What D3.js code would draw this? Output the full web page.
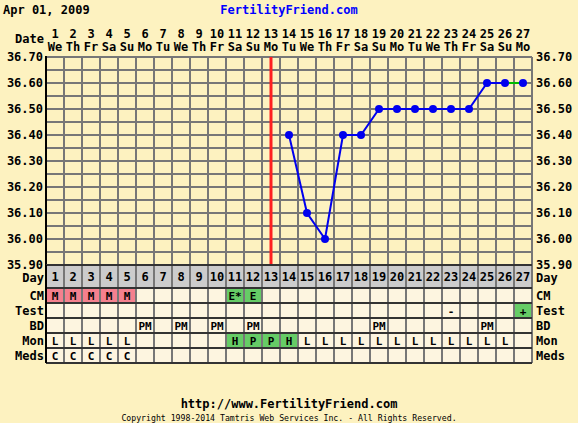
<!DOCTYPE html>
<html><head><meta charset="utf-8">
<script src="https://cdn.jsdelivr.net/npm/d3@7"></script>
<style>
body{margin:0;background:#fdf2c0;}
svg{display:block;}
text{font-family:"DejaVu Sans Mono",monospace;font-weight:bold;}
</style></head>
<body><svg id="c" width="578" height="423"></svg>
<script>
const days = d3.range(1, 28);
const weekdays = ["We","Th","Fr","Sa","Su","Mo","Tu","We","Th","Fr","Sa","Su","Mo","Tu","We","Th","Fr","Sa","Su","Mo","Tu","We","Th","Fr","Sa","Su","Mo"];
const tempDays = [14,15,16,17,18,19,20,21,22,23,24,25,26,27];
const temps = [36.40,36.10,36.00,36.40,36.40,36.50,36.50,36.50,36.50,36.50,36.50,36.60,36.60,36.60];
const yTicks = [35.90,36.00,36.10,36.20,36.30,36.40,36.50,36.60,36.70];
const coverlineDay = 13;
const rowLabels = ["CM","Test","BD","Mon","Meds"];
const cmRow = {1:"M",2:"M",3:"M",4:"M",5:"M",11:"E*",12:"E"};
const testRow = {23:"-",27:"+"};
const bdRow = {6:"PM",8:"PM",10:"PM",12:"PM",19:"PM",25:"PM"};
const monRow = {1:"L",2:"L",3:"L",4:"L",5:"L",11:"H",12:"P",13:"P",14:"H",15:"L",16:"L",17:"L",18:"L",19:"L",20:"L",21:"L",22:"L",23:"L",24:"L",25:"L",26:"L"};
const medsRow = {1:"C",2:"C",3:"C",4:"C",5:"C"};
const pinkCells = {CM:[1,2,3,4,5]};
const greenCells = {CM:[11,12], Test:[27], Mon:[11,12,13,14]};

const svg = d3.select("#c");
const x = d3.scaleBand().domain(days).range([46, 532]);
const y = d3.scaleLinear().domain([35.9, 36.7]).range([265, 57]);
const cx = d => x(d) + x.bandwidth()/2;

// header
svg.append("text").attr("x",3).attr("y",14).attr("font-size",12).text("Apr 01, 2009");
svg.append("text").attr("x",289).attr("y",14).attr("font-size",12).attr("text-anchor","middle").attr("fill","#0000ff").text("FertilityFriend.com");
svg.append("text").attr("x",44).attr("y",43).attr("font-size",12).attr("text-anchor","end").text("Date");
const hd = svg.append("g");
hd.selectAll("text.n").data(days).join("text").attr("class","n").attr("x",cx).attr("y",38).attr("font-size",12).attr("text-anchor","middle").text(d=>d);
hd.selectAll("text.w").data(days).join("text").attr("class","w").attr("x",cx).attr("y",51).attr("font-size",12).attr("text-anchor","middle").text(d=>weekdays[d-1]);

// grid
const grid = svg.append("g").attr("stroke","#777").attr("stroke-width",2);
const hLines = d3.range(0,17).map(i => 35.9 + i*0.05);
grid.selectAll("line.h").data(hLines).join("line").attr("x1",46).attr("x2",532).attr("y1",d=>Math.round(y(d))).attr("y2",d=>Math.round(y(d)));
const vEdges = days.map(d=>x(d)).concat([532]);
grid.selectAll("line.v").data(vEdges).join("line").attr("x1",d=>d).attr("x2",d=>d).attr("y1",57).attr("y2",265);
svg.append("line").attr("x1",46).attr("x2",46).attr("y1",56).attr("y2",265).attr("stroke","#000").attr("stroke-width",2);

// y labels
const yl = svg.append("g");
yl.selectAll("text.l").data(yTicks).join("text").attr("class","l").attr("x",43).attr("y",d=>y(d)+4).attr("text-anchor","end").attr("font-size",12).text(d=>d.toFixed(2));
yl.selectAll("text.r").data(yTicks).join("text").attr("class","r").attr("x",536).attr("y",d=>y(d)+4).attr("font-size",12).text(d=>d.toFixed(2));

// coverline day marker
svg.append("line").attr("x1",cx(coverlineDay)).attr("x2",cx(coverlineDay)).attr("y1",57).attr("y2",265).attr("stroke","#ff2020").attr("stroke-width",3);

// temps
const pts = tempDays.map((d,i)=>({d, t:temps[i]}));
const line = d3.line().x(p=>cx(p.d)).y(p=>y(p.t));
svg.append("path").datum(pts.slice(0, pts.length-1)).attr("d",line).attr("fill","none").attr("stroke","#0000ee").attr("stroke-width",2);
svg.append("path").datum(pts.slice(pts.length-2)).attr("d",line).attr("fill","none").attr("stroke","#00bb00").attr("stroke-width",2);
svg.selectAll("circle.p").data(pts).join("circle").attr("class","p").attr("cx",p=>cx(p.d)).attr("cy",p=>y(p.t)).attr("r",4).attr("fill","#0000ee");

// table
const dayTop = 265, dayH = 23, rowH = 15;
const tbl = svg.append("g");
tbl.append("rect").attr("x",46).attr("y",dayTop).attr("width",486).attr("height",dayH).attr("fill","#cccccc");
tbl.append("rect").attr("x",46).attr("y",dayTop+dayH).attr("width",486).attr("height",rowH*5).attr("fill","#fdf5e0");
const rowsData = [cmRow,testRow,bdRow,monRow,medsRow];
rowLabels.forEach((lab, r) => {
  const ry = dayTop + dayH + r*rowH;
  (pinkCells[lab]||[]).forEach(d => tbl.append("rect").attr("x",x(d)).attr("y",ry).attr("width",x.bandwidth()).attr("height",rowH).attr("fill","#f5808e"));
  (greenCells[lab]||[]).forEach(d => tbl.append("rect").attr("x",x(d)).attr("y",ry).attr("width",x.bandwidth()).attr("height",rowH).attr("fill","#66cc66"));
});
// table lines
const tl = svg.append("g");
tl.selectAll("line.v").data(vEdges).join("line").attr("x1",d=>d).attr("x2",d=>d).attr("y1",dayTop).attr("y2",dayTop+dayH+rowH*5).attr("stroke","#777").attr("stroke-width",2);
const hy = [dayTop, dayTop+dayH].concat(d3.range(1,6).map(i=>dayTop+dayH+i*rowH));
tl.selectAll("line.h").data(hy).join("line").attr("x1",46).attr("x2",532).attr("y1",d=>d).attr("y2",d=>d).attr("stroke","#333").attr("stroke-width",2);
tl.append("line").attr("x1",46).attr("x2",46).attr("y1",dayTop).attr("y2",dayTop+dayH+rowH*5).attr("stroke","#000").attr("stroke-width",2);

// day numbers
tbl.selectAll("text.d").data(days).join("text").attr("class","d").attr("x",cx).attr("y",dayTop+16).attr("font-size",12).attr("text-anchor","middle").text(d=>d);
const labs = ["Day"].concat(rowLabels);
const labY = [dayTop+17].concat(rowLabels.map((l,r)=>dayTop+dayH+r*rowH+11.5));
labs.forEach((l,i)=>{
  svg.append("text").attr("x",44).attr("y",labY[i]).attr("font-size",12).attr("text-anchor","end").text(l);
  svg.append("text").attr("x",536).attr("y",labY[i]).attr("font-size",12).text(l);
});
rowsData.forEach((row, r) => {
  const ry = dayTop + dayH + r*rowH;
  Object.keys(row).forEach(k => {
    svg.append("text").attr("x",cx(+k)).attr("y",ry+11.5).attr("font-size",11).attr("text-anchor","middle").text(row[k]);
  });
});

// footer
svg.append("text").attr("x",289).attr("y",408).attr("font-size",12).attr("text-anchor","middle").text("http://www.FertilityFriend.com");
svg.append("text").attr("x",289).attr("y",421).attr("font-size",8.2).style("font-weight","normal").attr("text-anchor","middle").text("Copyright 1998-2014 Tamtris Web Services Inc. - All Rights Reserved.");
</script></body></html>
